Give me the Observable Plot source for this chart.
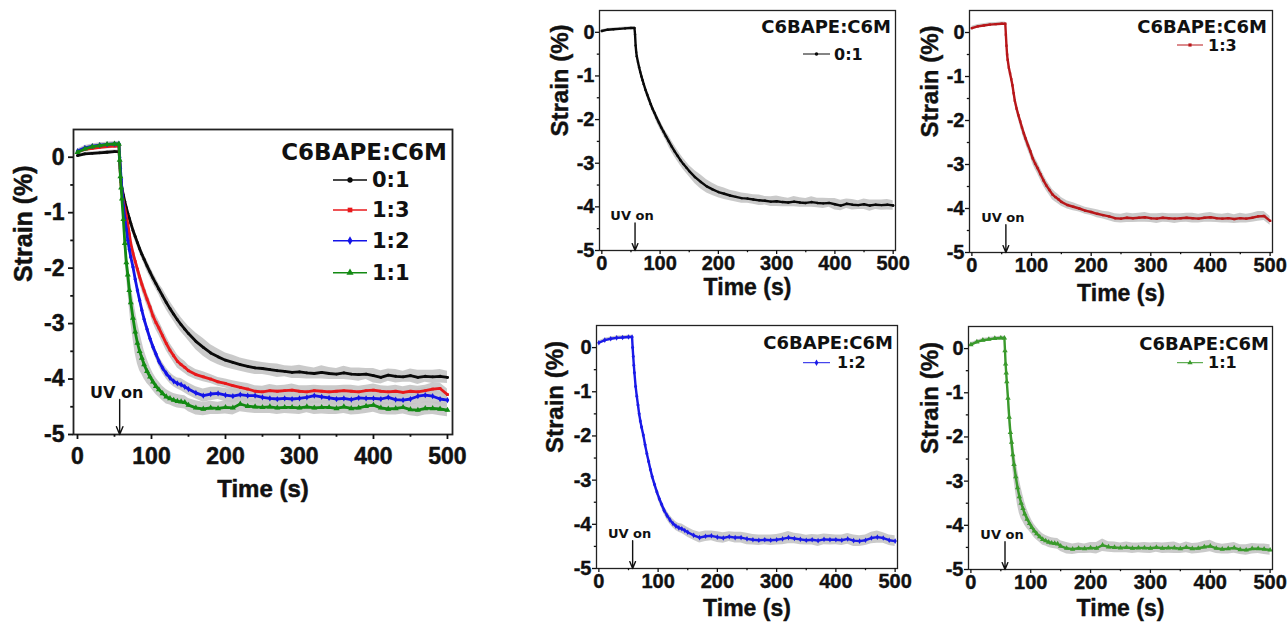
<!DOCTYPE html>
<html><head><meta charset="utf-8">
<script src="https://cdn.jsdelivr.net/npm/d3@7"></script>
<script src="https://cdn.jsdelivr.net/npm/@observablehq/plot@0.6"></script>
<style>
html,body{margin:0;padding:0;background:#fff;}
#fig{position:relative;width:1288px;height:631px;overflow:hidden;background:#fff;}
#fig svg{position:absolute;overflow:visible;}
</style></head><body><div id="fig"></div>
<script>
// ---------- data ----------
const times = [0,10,20,30,40,50,56,57,58,59,60,62,64,66,68,70,72,75,78,81,84,87,90,94,98,102,106,110,115,120,125,130,135,140,145,150,
  160,170,180,190,200,210,220,230,240,250,260,270,280,290,300,310,320,330,340,350,360,370,380,390,400,410,420,430,440,450,460,470,480,490,500];

const strain01 = [0.03,0.06,0.07,0.08,0.09,0.10,0.10,-0.05,-0.30,-0.45,-0.55,-0.68,-0.80,-0.91,-1.01,-1.10,-1.19,-1.32,-1.43,-1.54,-1.65,-1.75,-1.84,-1.96,-2.07,-2.18,-2.28,-2.38,-2.50,-2.62,-2.73,-2.83,-2.93,-3.02,-3.10,-3.18,
  -3.32,-3.43,-3.53,-3.60,-3.66,-3.70,-3.74,-3.77,-3.80,-3.81,-3.83,-3.85,-3.86,-3.88,-3.87,-3.89,-3.90,-3.88,-3.90,-3.91,-3.89,-3.91,-3.92,-3.91,-3.94,-3.97,-3.93,-3.95,-3.96,-3.94,-3.97,-3.95,-3.96,-3.95,-3.97];
const strain13 = [0.10,0.14,0.16,0.18,0.19,0.20,0.20,-0.05,-0.30,-0.50,-0.62,-0.80,-0.93,-1.06,-1.20,-1.38,-1.55,-1.73,-1.88,-2.02,-2.16,-2.29,-2.41,-2.56,-2.70,-2.86,-2.98,-3.08,-3.22,-3.36,-3.48,-3.58,-3.68,-3.74,-3.79,-3.85,
  -3.92,-3.96,-4.00,-4.05,-4.08,-4.12,-4.15,-4.18,-4.22,-4.23,-4.21,-4.22,-4.21,-4.20,-4.22,-4.23,-4.21,-4.22,-4.23,-4.22,-4.21,-4.22,-4.23,-4.21,-4.20,-4.22,-4.23,-4.22,-4.24,-4.22,-4.23,-4.21,-4.18,-4.17,-4.28];
const strain12 = [0.11,0.17,0.20,0.22,0.23,0.24,0.24,0.00,-0.20,-0.40,-0.57,-0.88,-1.10,-1.30,-1.50,-1.66,-1.80,-1.98,-2.20,-2.40,-2.58,-2.76,-2.92,-3.10,-3.27,-3.42,-3.55,-3.68,-3.80,-3.90,-3.98,-4.04,-4.08,-4.10,-4.14,-4.18,
  -4.25,-4.30,-4.27,-4.26,-4.29,-4.31,-4.28,-4.30,-4.30,-4.33,-4.35,-4.36,-4.35,-4.36,-4.35,-4.33,-4.30,-4.32,-4.34,-4.36,-4.35,-4.37,-4.34,-4.35,-4.35,-4.36,-4.33,-4.37,-4.38,-4.36,-4.31,-4.29,-4.31,-4.36,-4.38];
const strain11 = [0.09,0.15,0.19,0.21,0.23,0.24,0.24,-0.05,-0.35,-0.55,-0.75,-1.12,-1.55,-1.90,-2.12,-2.40,-2.62,-2.90,-3.15,-3.35,-3.50,-3.62,-3.74,-3.86,-3.96,-4.05,-4.13,-4.19,-4.26,-4.32,-4.35,-4.38,-4.40,-4.41,-4.42,-4.47,
  -4.52,-4.54,-4.52,-4.53,-4.51,-4.52,-4.45,-4.49,-4.50,-4.51,-4.50,-4.52,-4.51,-4.51,-4.52,-4.50,-4.52,-4.51,-4.51,-4.53,-4.50,-4.53,-4.52,-4.49,-4.47,-4.52,-4.54,-4.53,-4.51,-4.55,-4.56,-4.53,-4.53,-4.54,-4.56];

const err01 = [0.03,0.03,0.03,0.03,0.03,0.03,0.03,0.04,0.04,0.04,0.04,0.06,0.06,0.06,0.06,0.06,0.06,0.08,0.08,0.08,0.08,0.08,0.08,0.10,0.10,0.10,0.10,0.10,0.13,0.13,0.13,0.13,0.13,0.13,0.13,0.13,
  0.15,0.16,0.15,0.14,0.13,0.13,0.12,0.12,0.12,0.11,0.11,0.12,0.10,0.11,0.12,0.11,0.10,0.12,0.11,0.10,0.12,0.11,0.12,0.10,0.13,0.12,0.11,0.12,0.10,0.12,0.13,0.11,0.12,0.12,0.11];
const err13 = [0.04,0.04,0.04,0.04,0.04,0.04,0.04,0.06,0.06,0.06,0.06,0.06,0.06,0.06,0.06,0.06,0.06,0.10,0.10,0.11,0.11,0.12,0.12,0.12,0.12,0.13,0.13,0.13,0.13,0.13,0.12,0.12,0.12,0.11,0.11,0.10,
  0.09,0.09,0.08,0.08,0.08,0.09,0.09,0.10,0.10,0.10,0.11,0.10,0.10,0.11,0.10,0.11,0.10,0.10,0.11,0.10,0.10,0.11,0.10,0.10,0.11,0.10,0.10,0.11,0.10,0.11,0.10,0.10,0.11,0.10,0.10];
const err12 = [0.04,0.04,0.04,0.04,0.04,0.04,0.04,0.05,0.05,0.05,0.05,0.06,0.06,0.06,0.06,0.06,0.06,0.07,0.07,0.07,0.07,0.07,0.08,0.08,0.08,0.09,0.09,0.09,0.10,0.10,0.10,0.10,0.10,0.11,0.11,0.11,
  0.11,0.12,0.12,0.11,0.12,0.12,0.11,0.12,0.12,0.13,0.12,0.12,0.11,0.12,0.12,0.13,0.14,0.12,0.12,0.11,0.12,0.13,0.12,0.12,0.11,0.12,0.12,0.13,0.12,0.12,0.13,0.14,0.12,0.12,0.12];
const err11 = [0.04,0.04,0.04,0.04,0.04,0.04,0.04,0.08,0.08,0.08,0.08,0.20,0.22,0.25,0.28,0.32,0.35,0.38,0.40,0.38,0.35,0.30,0.26,0.22,0.18,0.16,0.15,0.14,0.13,0.13,0.12,0.12,0.12,0.12,0.12,0.12,
  0.13,0.12,0.12,0.11,0.12,0.13,0.14,0.12,0.12,0.11,0.12,0.12,0.11,0.12,0.12,0.11,0.12,0.12,0.13,0.11,0.12,0.12,0.12,0.13,0.13,0.12,0.11,0.12,0.12,0.11,0.12,0.12,0.11,0.12,0.12];

const ratios = ["0:1","1:3","1:2","1:1"];
const legendTitle = "C6BAPE:C6M";
const xTitle = "Time (s)";
const yTitle = "Strain (%)";
const uvLabel = "UV on";
const uvTime = 57;
const uvArrowTop = -4.37;
const xMajor = [0,100,200,300,400,500];
const xMinor = [50,150,250,350,450];
const yMajor = [0,-1,-2,-3,-4,-5];
const yMinor = [-0.5,-1.5,-2.5,-3.5,-4.5];

// ---------- styles ----------
const strains = [strain01, strain13, strain12, strain11];
const errs = [err01, err13, err12, err11];
const symbols = ["circle","square","diamond","triangle"];
const d3symbols = [d3.symbolCircle, d3.symbolSquare, d3.symbolDiamond, d3.symbolTriangle];
const colorsMain = ["#0a0a0a","#e8191b","#1414e8","#138a13"];
const colorsSmall = ["#0a0a0a","#b8171a","#1a1ae8","#3a9a2c"];
const AX = "'Liberation Sans', Arial, Helvetica, sans-serif";
const LG = "'DejaVu Sans', Verdana, sans-serif";

const series = ratios.map((r, i) => times.map((t, j) => ({t, v: strains[i][j], e: errs[i][j]})));

const fig = document.getElementById("fig");

function panel(cfg) {
  const marks = [];
  for (const i of cfg.idx) marks.push(Plot.areaY(series[i], {x: "t", y1: d => d.v - d.e, y2: d => d.v + d.e, fill: "#c4c4c4", fillOpacity: 0.9}));
  for (const i of cfg.idx) {
    marks.push(Plot.line(series[i], {x: "t", y: "v", stroke: cfg.colors[i], strokeWidth: cfg.lw}));
    marks.push(Plot.dot(series[i], {x: "t", y: "v", symbol: () => symbols[i], fill: cfg.colors[i], stroke: "none", r: cfg.dotR[i]}));
  }
  const heavy = {fontWeight: "bold", fontFamily: AX, fill: "#111", stroke: "#111", strokeWidth: cfg.textStroke};
  marks.push(
    Plot.frame({stroke: "#222", strokeWidth: cfg.frameW}),
    // ticks (labels drawn separately as bold text marks)
    Plot.axisX({ticks: xMajor, tickSize: cfg.tick, tickFormat: () => "", label: null, strokeWidth: cfg.frameW}),
    Plot.axisX({ticks: xMinor, tickSize: cfg.tick * 0.55, tickFormat: () => "", label: null, strokeWidth: cfg.frameW}),
    Plot.axisY({ticks: yMajor, tickSize: cfg.tick, tickFormat: () => "", label: null, strokeWidth: cfg.frameW}),
    Plot.axisY({ticks: yMinor, tickSize: cfg.tick * 0.55, tickFormat: () => "", label: null, strokeWidth: cfg.frameW}),
    Plot.text(xMajor, {x: d => d, frameAnchor: "bottom", dy: cfg.xLabDy, text: d => String(d), lineAnchor: "middle",
      fontSize: cfg.tickFs, ...heavy, ariaLabel: "x-ticklabel"}),
    Plot.text(yMajor, {y: d => d, frameAnchor: "left", dx: -cfg.yLabDx, text: d => String(d), textAnchor: "end",
      fontSize: cfg.tickFs, ...heavy, ariaLabel: "y-ticklabel"}),
    Plot.arrow([{x: uvTime, y1: uvArrowTop, y2: -5}], {x1: "x", x2: "x", y1: "y1", y2: "y2", stroke: "#111", strokeWidth: 1.4, headLength: cfg.head, headAngle: 45}),
    Plot.text([{x: uvTime, y: uvArrowTop, s: uvLabel}], {x: "x", y: "y", text: "s", dx: -3, dy: -7, fontFamily: LG, fontWeight: "bold", fontSize: cfg.uvFs, fill: "#111"}),
    Plot.text([xTitle], {frameAnchor: "bottom", dy: cfg.xTitleDy, fontSize: cfg.titleFs, ...heavy, ariaLabel: "x-title"}),
    Plot.text([yTitle], {frameAnchor: "left", dx: cfg.yTitleDx, dy: cfg.yTitleDy || 0, rotate: -90, fontSize: cfg.yTitleFs, ...heavy, ariaLabel: "y-title"})
  );
  const svg = Plot.plot({
    width: cfg.w, height: cfg.h,
    marginLeft: cfg.ml, marginRight: cfg.mr, marginTop: cfg.mt, marginBottom: cfg.mb,
    x: {domain: cfg.xd}, y: {domain: [-5, 0.5]},
    style: {fontFamily: AX, color: "#111", background: "transparent", overflow: "visible"},
    marks
  });
  svg.style.left = cfg.left + "px";
  svg.style.top = cfg.top + "px";
  fig.appendChild(svg);

  // horizontally condensed axis text (as in the reference small panels)
  if (cfg.squish) {
    for (const [sel, k] of [["x-ticklabel", cfg.squish], ["y-ticklabel", cfg.squish], ["x-title", cfg.squishTitle]]) {
      svg.querySelectorAll(`g[aria-label="${sel}"] text`).forEach(t => {
        const L = t.getComputedTextLength();
        if (L > 0) { t.setAttribute("textLength", (L * k).toFixed(1)); t.setAttribute("lengthAdjust", "spacingAndGlyphs"); }
      });
    }
  }

  // legend
  const R = cfg.w - cfg.mr, T = cfg.mt, L = cfg.leg;
  const g = d3.select(svg).append("g").attr("aria-label", "legend");
  g.append("text").attr("x", R + L.titleRight).attr("y", T + L.titleY).attr("text-anchor", "end")
    .attr("dominant-baseline", "central").attr("font-family", LG).attr("font-weight", "bold")
    .attr("font-size", L.titleFs).attr("fill", "#111").text(legendTitle);
  cfg.idx.forEach((i, k) => {
    const y = T + L.entryY[k];
    g.append("line").attr("x1", R + L.x1).attr("x2", R + L.x2).attr("y1", y).attr("y2", y)
      .attr("stroke", cfg.colors[i]).attr("stroke-width", L.lw);
    g.append("path").attr("transform", `translate(${R + (L.x1 + L.x2) / 2},${y})`)
      .attr("d", d3.symbol(d3symbols[i], L.sym)()).attr("fill", cfg.colors[i]);
    g.append("text").attr("x", R + L.labelX).attr("y", y).attr("text-anchor", "start").attr("dominant-baseline", "central")
      .attr("font-family", LG).attr("font-weight", "bold").attr("font-size", L.entryFs).attr("fill", "#111").text(ratios[i]);
  });
}

// big left panel
panel({
  left: 0, top: 100, w: 480, h: 420, ml: 73, mr: 28, mt: 29, mb: 86,
  xd: [-5.4, 506.8], idx: [0, 1, 2, 3], colors: colorsMain, lw: 2.8, dotR: [1.4, 1.5, 1.9, 2.2],
  frameW: 1.8, tick: 5, xLabDy: 22, yLabDx: 9, tickFs: 23, titleFs: 24, yTitleFs: 25, textStroke: 0.5,
  xTitleDy: 62, yTitleDx: -50, uvFs: 16, head: 9,
  leg: {titleRight: -5, titleY: 22.7, titleFs: 23, x1: -119, x2: -85, labelX: -80, entryY: [51, 81, 111.7, 143.7], entryFs: 21, lw: 1.6, sym: 22}
});

// small panels
const smallCommon = {colors: colorsSmall, lw: 2.4, dotR: [1.2, 1.3, 1.7, 2.0], frameW: 1.3, tick: 4, xLabDy: 13, yLabDx: 5,
  tickFs: 20, titleFs: 23, yTitleFs: 24, textStroke: 0.4, uvFs: 13, head: 8, squish: 0.78, squishTitle: 0.82, xd: [-4, 504]};
panel(Object.assign({}, smallCommon, {
  left: 540, top: 0, w: 370, h: 315, ml: 59, mr: 15, mt: 10, mb: 65, idx: [0],
  xTitleDy: 44, yTitleDx: -39, yTitleDy: 6,
  leg: {titleRight: -4, titleY: 16.7, titleFs: 18, x1: -92, x2: -65, labelX: -61, entryY: [44], entryFs: 16, lw: 1, sym: 10}
}));
panel(Object.assign({}, smallCommon, {
  left: 910, top: 0, w: 378, h: 315, ml: 59, mr: 16, mt: 10, mb: 63, idx: [1],
  xTitleDy: 48, yTitleDx: -39, yTitleDy: 6,
  leg: {titleRight: -5, titleY: 16, titleFs: 18, x1: -95, x2: -69, labelX: -64, entryY: [35], entryFs: 16, lw: 1, sym: 10}
}));
panel(Object.assign({}, smallCommon, {
  left: 540, top: 315, w: 370, h: 316, ml: 56, mr: 13, mt: 10, mb: 63, idx: [2],
  xTitleDy: 47, yTitleDx: -41, yTitleDy: 6,
  leg: {titleRight: -4, titleY: 17.7, titleFs: 18, x1: -94, x2: -67, labelX: -60, entryY: [37.7], entryFs: 16, lw: 1, sym: 12}
}));
panel(Object.assign({}, smallCommon, {
  left: 910, top: 315, w: 378, h: 316, ml: 58, mr: 16, mt: 11, mb: 62, idx: [3],
  xTitleDy: 46, yTitleDx: -38, yTitleDy: 6,
  leg: {titleRight: -3, titleY: 17.3, titleFs: 18, x1: -95, x2: -69, labelX: -64, entryY: [36.7], entryFs: 16, lw: 1, sym: 12}
}));
</script>
</body></html>
